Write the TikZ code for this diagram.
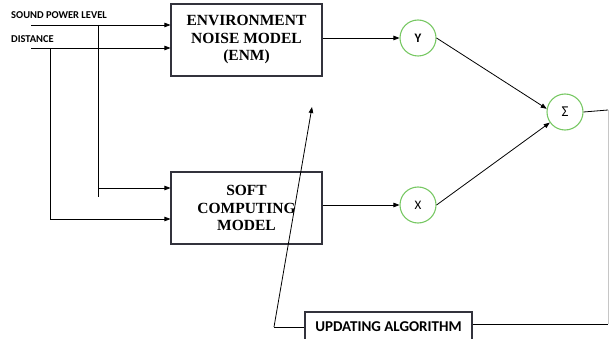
\documentclass[tikz,border=0pt]{standalone}
\usepackage{fontspec}
\setmainfont{Liberation Serif}
\newfontfamily\lblfont{Carlito}
\usetikzlibrary{arrows.meta}
\definecolor{circgreen}{RGB}{120,200,100}
\definecolor{boxgray}{RGB}{50,50,60}
\tikzset{
  arr/.style={-{Triangle[length=6pt,width=4.5pt]}, line width=0.8pt},
  ln/.style={line width=0.8pt},
  blockbox/.style={draw=boxgray, line width=1.1pt, minimum width=151pt, minimum height=72pt, inner sep=0pt,
     align=center, font=\fontsize{15.5}{17.5}\selectfont\bfseries},
  sumcirc/.style={circle, draw=circgreen, line width=1.1pt, minimum size=36pt, inner sep=0pt, font=\lblfont\fontsize{13}{14}\selectfont},
  inlabel/.style={anchor=west, inner sep=0pt, font=\lblfont\bfseries\fontsize{10.5}{11}\selectfont},
  updbox/.style={draw=boxgray, line width=1.1pt, minimum width=167pt, minimum height=30pt, inner sep=0pt,
     font=\lblfont\bfseries\fontsize{15}{16}\selectfont}
}
\begin{document}
\begin{tikzpicture}[x=1pt,y=-1pt]
\useasboundingbox (0,0) rectangle (610,339);
\clip (0,0) rectangle (610,339);
% labels
\node[inlabel] (spl) at (11,15) {SOUND POWER LEVEL};
\node[inlabel] (dist) at (11,39) {DISTANCE};
% blocks
\node[blockbox] (enm) at (246.5,40) {ENVIRONMENT\\NOISE MODEL\\(ENM)};
\node[blockbox] (scm) at (246.5,208) {SOFT\\COMPUTING\\MODEL};
\node[updbox] (upd) at (388.5,327) {\raisebox{1pt}{UPDATING ALGORITHM}};
% circles
\node[sumcirc] (Y) at (418,38) {\bfseries Y};
\node[sumcirc] (X) at (418,205) {X};
\node[sumcirc] (S) at (565,112) {\fontsize{15}{16}\selectfont Σ};
% input coordinates
\coordinate (a1) at (31,25);
\coordinate (a2) at (31,48);
\coordinate (v1t) at (98,25);
\coordinate (v1b) at (98,197);
\coordinate (v1a) at (98,188);
\coordinate (v2t) at (50,48);
\coordinate (v2b) at (50,219);
% inputs
\draw[arr] (a1) -- (a1 -| enm.west);
\draw[arr] (a2) -- (a2 -| enm.west);
\draw[ln] (v1t) -- (v1b);
\draw[arr] (v1a) -- (v1a -| scm.west);
\draw[ln] (v2t) -- (v2b);
\draw[arr] (v2b) -- (v2b -| scm.west);
% to circles
\draw[arr] (enm.east |- Y) -- (Y.west);
\draw[arr] (scm.east |- X) -- (X.west);
\draw[arr] (Y.east) -- (S.170);
\draw[arr] (X.east) -- (S.215);
% feedback
\coordinate (c1) at (608,110);
\coordinate (c2) at (608,324);
\coordinate (c3) at (274,327);
\coordinate (c4) at (312,107);
\draw[ln] (S.east) -- (c1);
\draw[line width=0.6pt, gray!45] (c1) -- (c2);
\draw[ln] (c2) -- (upd.east |- c2);
\draw[ln] (upd.west |- c3) -- (c3);
\draw[arr] (c3) -- (c4);
\end{tikzpicture}
\end{document}
